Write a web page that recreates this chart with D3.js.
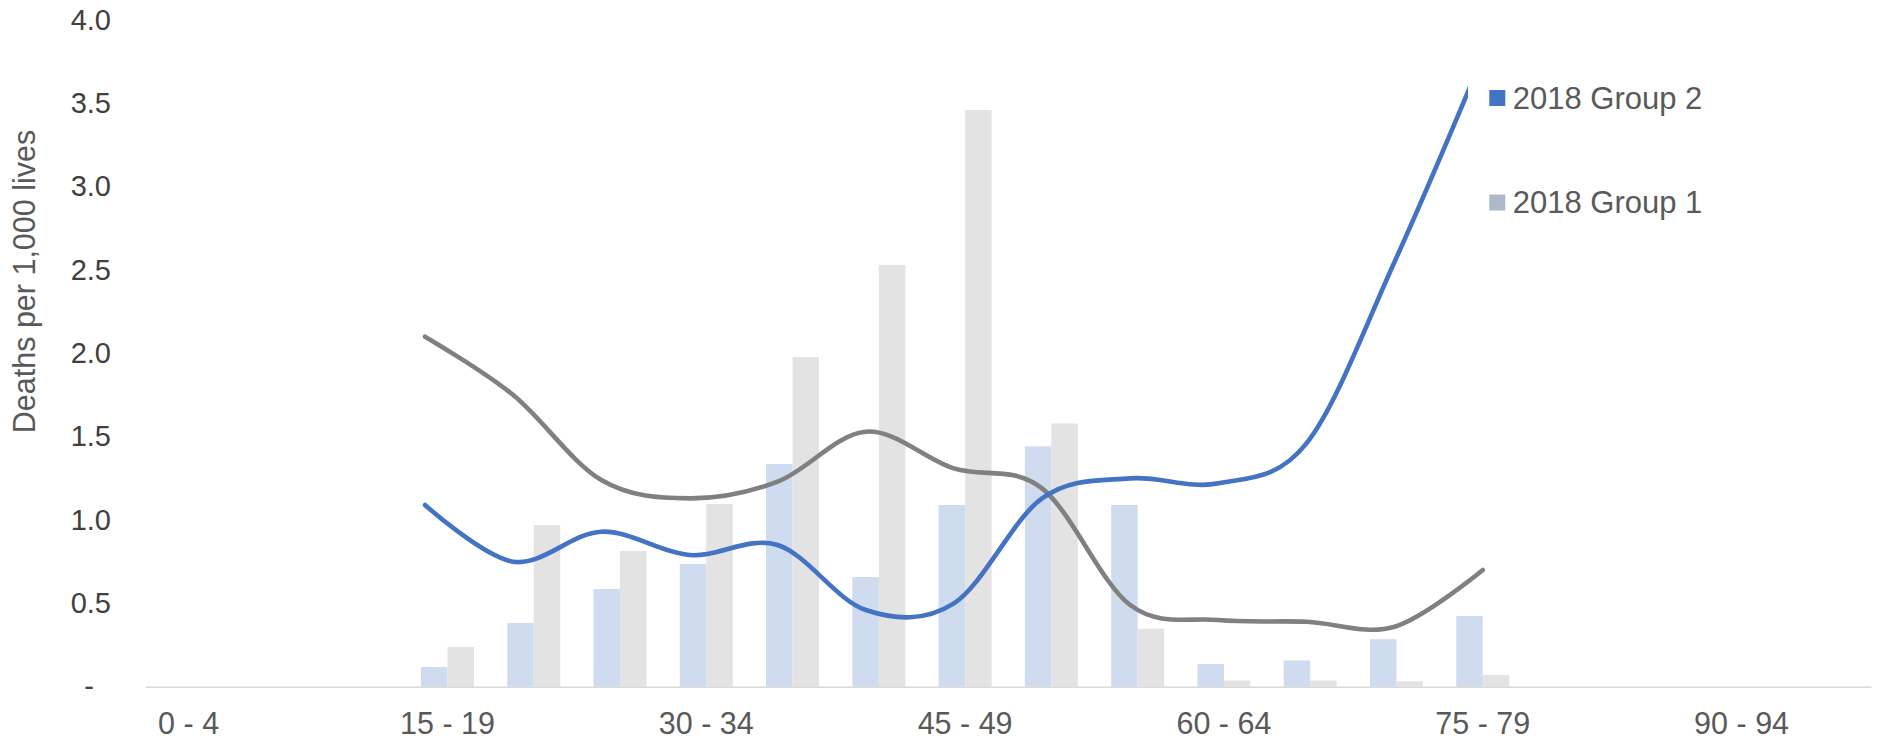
<!DOCTYPE html>
<html>
<head>
<meta charset="utf-8">
<script src="https://cdn.jsdelivr.net/npm/d3@7"></script>
<style>
  html, body { margin: 0; padding: 0; background: #ffffff; }
  svg { display: block; font-family: "Liberation Sans", Arial, sans-serif; }
</style>
</head>
<body>
<svg id="chart" width="1879" height="741"></svg>
<script>
// ---------- data ----------
const categories = ["0 - 4","5 - 9","10 - 14","15 - 19","20 - 24","25 - 29","30 - 34","35 - 39","40 - 44","45 - 49","50 - 54","55 - 59","60 - 64","65 - 69","70 - 74","75 - 79","80 - 84","85 - 89","90 - 94","95 - 99"];
const barsGroup2 = [0,0,0,0.118,0.382,0.586,0.736,1.336,0.658,1.09,1.442,1.09,0.136,0.157,0.285,0.424,0,0,0,0];
const barsGroup1 = [0,0,0,0.238,0.97,0.814,1.096,1.978,2.53,3.46,1.579,0.348,0.037,0.037,0.032,0.070,0,0,0,0];
const lineCategories = ["15 - 19","20 - 24","25 - 29","30 - 34","35 - 39","40 - 44","45 - 49","50 - 54","55 - 59","60 - 64","65 - 69","70 - 74","75 - 79"];
const line2018Group2 = [1.09,0.75,0.93,0.79,0.85,0.46,0.50,1.13,1.25,1.22,1.46,2.55,3.78];
const line2018Group1 = [2.10,1.75,1.24,1.13,1.23,1.53,1.31,1.19,0.49,0.40,0.39,0.36,0.70];
const yTicks = [0,0.5,1.0,1.5,2.0,2.5,3.0,3.5,4.0];
const xTickLabels = ["0 - 4","15 - 19","30 - 34","45 - 49","60 - 64","75 - 79","90 - 94"];
const legendNames = ["2018 Group 2","2018 Group 1"];
const yTitle = "Deaths per 1,000 lives";

// ---------- layout ----------
const svg = d3.select("#chart");
const plotLeft = 145.5, plotRight = 1871, plotTop = 20, plotBottom = 686.7;

const x = d3.scaleBand().domain(categories).range([plotLeft, plotRight]).padding(0);
const bw = x.bandwidth();
const barW = 26.5;
const xs = d3.scaleBand().domain(["g2","g1"]).range([0, 2 * barW]);
const y = d3.scaleLinear().domain([0, 4]).range([plotBottom, plotTop]);
const lineX = d3.scalePoint().domain(lineCategories)
  .range([x("15 - 19") + bw * 0.24, x("75 - 79") + bw / 2]);

// ---------- bars ----------
const barData = categories.map((c, i) => ({ c, g2: barsGroup2[i], g1: barsGroup1[i] }));
const gBars = svg.append("g");
[["g2", "#CFDCEF"], ["g1", "#E3E3E3"]].forEach(([key, col]) => {
  gBars.selectAll("rect." + key).data(barData.filter(d => d[key] > 0)).join("rect")
    .attr("class", key)
    .attr("x", d => x(d.c) + bw / 2 - barW + xs(key))
    .attr("width", xs.bandwidth())
    .attr("y", d => y(d[key]))
    .attr("height", d => y(0) - y(d[key]))
    .attr("fill", col);
});

// ---------- x axis ----------
const xAxis = svg.append("g").attr("transform", `translate(0,${plotBottom})`)
  .call(d3.axisBottom(x).tickValues(xTickLabels).tickSize(0).tickPadding(25.5));
xAxis.select(".domain").attr("stroke", "#D9D9D9").attr("stroke-width", 1.6);
xAxis.selectAll("text").attr("fill", "#595959").style("font-size", "30.5px")
  .style("font-family", "'Liberation Sans', Arial, sans-serif");

// ---------- y axis ----------
const yAxis = svg.append("g").attr("transform", `translate(${plotLeft},0)`)
  .call(d3.axisLeft(y).tickValues(yTicks).tickSize(0).tickPadding(34.5)
    .tickFormat(d => d === 0 ? "-" : d3.format(".1f")(d)));
yAxis.select(".domain").remove();
yAxis.selectAll("text").attr("fill", "#404040").style("font-size", "29px")
  .style("font-family", "'Liberation Sans', Arial, sans-serif");
yAxis.selectAll(".tick").filter(d => d === 0).select("text").attr("x", -(plotLeft - 94));

// ---------- y title ----------
svg.append("text")
  .attr("transform", `translate(35,${(130 + 433) / 2}) rotate(-90)`)
  .attr("text-anchor", "middle")
  .attr("fill", "#595959")
  .style("font-size", "30.5px")
  .text(yTitle);

// ---------- lines ----------
const lineGen = d3.line()
  .x((d, i) => lineX(lineCategories[i]))
  .y(d => y(d))
  .curve(d3.curveCardinal.tension(0));
svg.append("path").datum(line2018Group1)
  .attr("d", lineGen).attr("fill", "none")
  .attr("stroke", "#808080").attr("stroke-width", 4.6)
  .attr("stroke-linecap", "round").attr("stroke-linejoin", "round");
svg.append("path").datum(line2018Group2)
  .attr("d", lineGen).attr("fill", "none")
  .attr("stroke", "#4472C4").attr("stroke-width", 4.6)
  .attr("stroke-linecap", "round").attr("stroke-linejoin", "round");

// ---------- legend ----------
const legend = svg.append("g");
legend.append("rect").attr("x", 1468).attr("y", 30).attr("width", 411).attr("height", 220).attr("fill", "#ffffff");
const legendColors = ["#4472C4", "#ADB9CA"];
const legendY = d3.scalePoint().domain(legendNames).range([98, 202.5]);
legendNames.forEach((n, i) => {
  legend.append("rect")
    .attr("x", 1489.3).attr("y", legendY(n) - 8)
    .attr("width", 16).attr("height", 16)
    .attr("fill", legendColors[i]);
  legend.append("text")
    .attr("x", 1512.7).attr("y", legendY(n) + 10.5)
    .attr("fill", "#595959")
    .style("font-size", "31px")
    .text(n);
});
</script>
</body>
</html>
